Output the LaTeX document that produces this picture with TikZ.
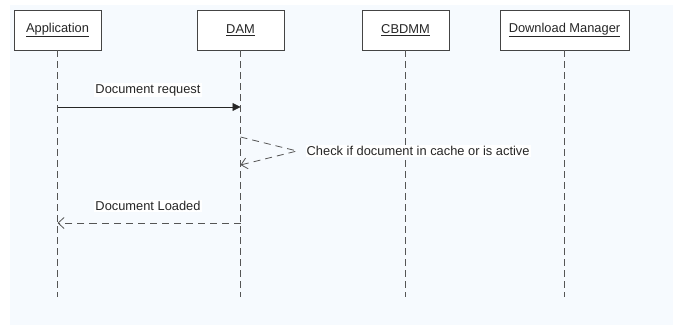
\documentclass[tikz,border=0pt]{standalone}
\usepackage{fontspec}
\setmainfont{Liberation Sans}
\usetikzlibrary{arrows.meta}
\definecolor{canvas}{HTML}{F6FAFE}
\definecolor{frame}{HTML}{444444}
\definecolor{lifeline}{HTML}{555555}
\begin{document}
\begin{tikzpicture}[x=1bp,y=-1bp,
  every node/.style={font=\fontsize{12.9}{14}\selectfont, text=black!85},
  actor/.style={draw=frame, fill=white, line width=0.8bp, minimum height=40bp, inner sep=0pt},
  life/.style={draw=lifeline, line width=0.8bp, dash pattern=on 7bp off 4bp},
  call/.style={draw=black!85, line width=0.8bp, -{Triangle[length=8bp,width=8bp]}},
  reply/.style={draw=lifeline, line width=0.8bp, dash pattern=on 7bp off 5bp, -{Straight Barb[length=6bp,width=11bp]}},
  msglabel/.style={fill=white, inner sep=1bp}]
  % page and canvas
  \useasboundingbox (0,0) rectangle (675,325);
  \fill[white] (0,0) rectangle (675,325);
  \fill[canvas] (10,5) rectangle (673,325);

  % participants
  \node[actor, minimum width=87bp] (app) at (57.5,30) {\underline{Application}};
  \node[actor, minimum width=87bp] (dam) at (240.5,30) {\underline{DAM}};
  \node[actor, minimum width=87bp] (cbd) at (405.5,30) {\underline{CBDMM}};
  \node[actor, minimum width=129bp] (dlm) at (564.5,30) {\underline{Download Manager}};

  % lifeline ends
  \coordinate (appEnd) at (app.south |- 0,297);
  \coordinate (damEnd) at (dam.south |- 0,297);
  \coordinate (cbdEnd) at (cbd.south |- 0,297);
  \coordinate (dlmEnd) at (dlm.south |- 0,297);
  \draw[life] (app.south) -- (appEnd);
  \draw[life] (dam.south) -- (damEnd);
  \draw[life] (cbd.south) -- (cbdEnd);
  \draw[life] (dlm.south) -- (dlmEnd);

  % message anchor points on the lifelines
  \coordinate (reqFrom) at (app.south |- 0,107);
  \coordinate (reqTo)   at (dam.south |- 0,107);
  \coordinate (selfFrom) at (dam.south |- 0,137);
  \coordinate (selfTip)  at (297,151);
  \coordinate (selfTo)   at (dam.south |- 0,165);
  \coordinate (ldFrom) at (dam.south |- 0,223);
  \coordinate (ldTo)   at (app.south |- 0,223);

  % Document request
  \draw[call] (reqFrom) -- (reqTo);
  \node[msglabel] (reqLbl) at (148,90) {Document request};

  % self check
  \draw[reply] (selfFrom) -- (selfTip) -- (selfTo);
  \node[msglabel, anchor=west] (chkLbl) at (305.5,151) {Check if document in cache or is active};

  % Document Loaded
  \draw[reply] (ldFrom) -- (ldTo);
  \node[msglabel] (ldLbl) at (148,206) {Document Loaded};
\end{tikzpicture}
\end{document}
